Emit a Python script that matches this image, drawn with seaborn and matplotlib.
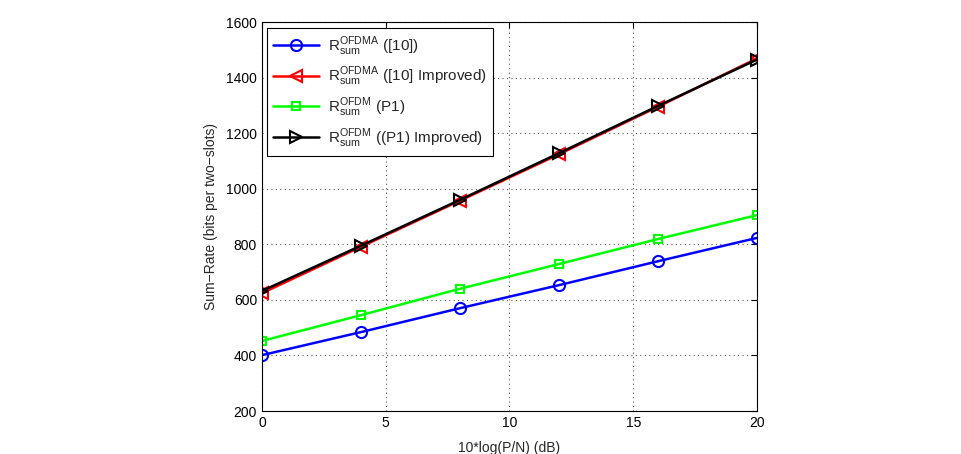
import pandas as pd
import seaborn as sb
import matplotlib.pyplot as plt

snr_db = [0, 4, 8, 12, 16, 20]
ofdma_ref = [401, 484, 570, 653, 739, 823]
ofdma_improved = [624, 791, 957, 1124, 1295, 1469]
ofdm_p1 = [452, 545, 640, 729, 819, 905]
ofdm_p1_improved = [632, 795, 960, 1128, 1298, 1465]

labels = [r'$\mathrm{R}_{\mathrm{sum}}^{\mathrm{OFDMA}}$ ([10])',
          r'$\mathrm{R}_{\mathrm{sum}}^{\mathrm{OFDMA}}$ ([10] Improved)',
          r'$\mathrm{R}_{\mathrm{sum}}^{\mathrm{OFDM}}$ (P1)',
          r'$\mathrm{R}_{\mathrm{sum}}^{\mathrm{OFDM}}$ ((P1) Improved)']


def main():
    sb.set_style("white")
    plt.rcParams['font.family'] = ['Liberation Sans', 'DejaVu Sans']
    plt.rcParams['mathtext.fontset'] = 'custom'
    plt.rcParams['mathtext.rm'] = 'Liberation Sans'

    fig = plt.figure(figsize=(9.62, 4.54), dpi=100)
    ax = fig.add_axes([0.2723, 0.0947, 0.5146, 0.8568])

    series = [ofdma_ref, ofdma_improved, ofdm_p1, ofdm_p1_improved]
    colors = ['#0000ff', '#ff0000', '#00ff00', '#000000']
    markers = ['o', '<', 's', '>']
    sizes = [8, 8, 6, 8]
    for vals, lab, col, mk, ms in zip(series, labels, colors, markers, sizes):
        data = pd.DataFrame({'x': snr_db, 'y': vals})
        sb.lineplot(x='x', y='y', data=data, ax=ax, color=col, marker=mk,
                    markersize=ms, markerfacecolor='none',
                    markeredgecolor=col, markeredgewidth=1.5,
                    linewidth=1.8, label=lab)

    ax.set_xlim(0, 20)
    ax.set_ylim(200, 1600)
    ax.set_xticks([0, 5, 10, 15, 20])
    ax.set_yticks(range(200, 1601, 200))
    ax.grid(True, linestyle=(0, (1, 3)), color='#555555', linewidth=0.8)
    ax.tick_params(direction='in', top=True, right=True, length=4,
                   labelsize=10, width=0.8, colors='black')
    for sp in ax.spines.values():
        sp.set_color('black')
        sp.set_linewidth(0.8)

    ax.set_xlabel('10*log(P/N) (dB)', fontsize=10, labelpad=8)
    ax.set_ylabel('Sum\u2212Rate (bits per two\u2212slots)', fontsize=10, labelpad=6)

    leg = ax.legend(loc='upper left', bbox_to_anchor=(0.01, 0.985),
                    borderaxespad=0.0,
                    fancybox=False, framealpha=1, edgecolor='black',
                    fontsize=11, handlelength=3.0, labelspacing=0.45,
                    borderpad=0.4, handletextpad=0.6)
    leg.get_frame().set_linewidth(0.8)

    plt.savefig('out.png', format='png', dpi=100)


if __name__ == "__main__":
    main()
